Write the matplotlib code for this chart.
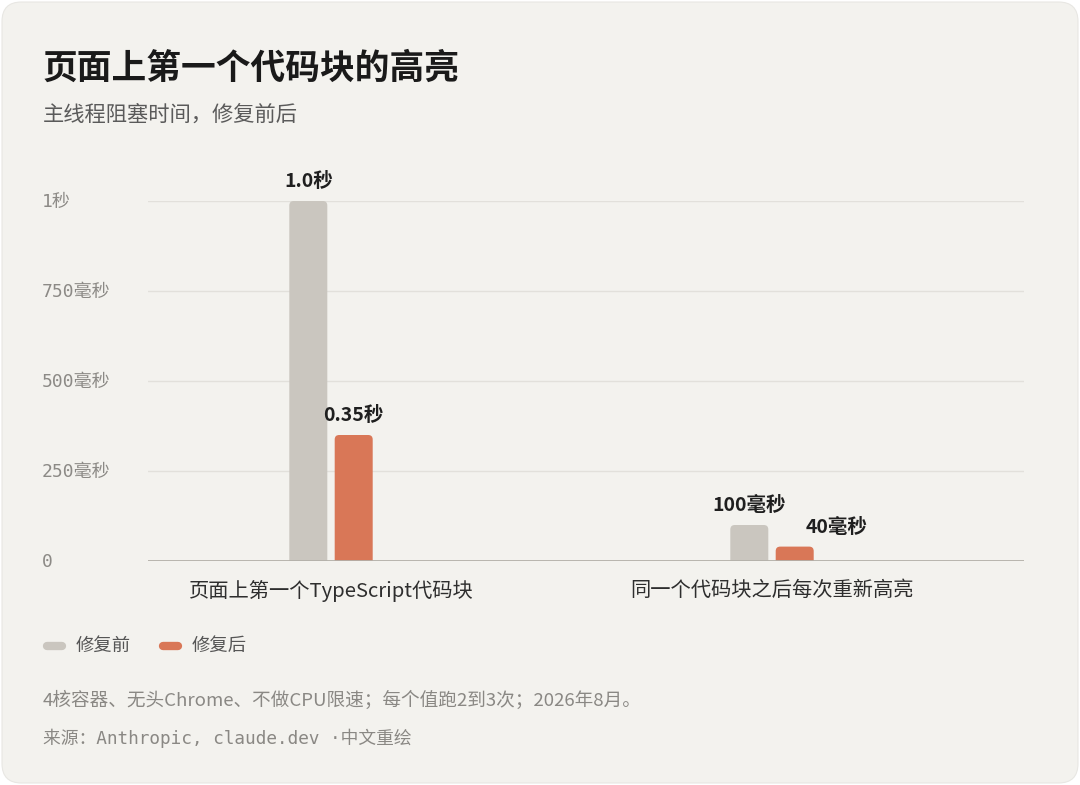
import matplotlib
matplotlib.use("Agg")
import matplotlib.pyplot as plt
from matplotlib.patches import FancyBboxPatch
from matplotlib.lines import Line2D

plt.rcParams['font.family'] = ['Noto Sans CJK SC', 'DejaVu Sans']

# ---- data ----
categories = ["页面上第一个TypeScript代码块", "同一个代码块之后每次重新高亮"]
series_names = ["修复前", "修复后"]
before_ms = [1000, 100]
after_ms = [350, 40]
before_labels = ["1.0秒", "100毫秒"]
after_labels = ["0.35秒", "40毫秒"]
ytick_values = [0, 250, 500, 750, 1000]
ytick_labels = ["0", "250毫秒", "500毫秒", "750毫秒", "1秒"]

title = "页面上第一个代码块的高亮"
subtitle = "主线程阻塞时间，修复前后"
footnote = "4核容器、无头Chrome、不做CPU限速；每个值跑2到3次；2026年8月。"
source = "来源：Anthropic, claude.dev ·中文重绘"

# ---- style ----
BG = "#F3F2EE"
GRAY = "#CAC6BF"
ORANGE = "#D97757"
W, H = 1080, 785

fig = plt.figure(figsize=(W / 100, H / 100), dpi=100)
fig.patch.set_facecolor("white")
card = FancyBboxPatch((2 / W, 2 / H), (W - 4) / W, (H - 4) / H,
                      boxstyle="round,pad=0,rounding_size=0.018",
                      transform=fig.transFigure, facecolor=BG, edgecolor="#E8E7E3",
                      linewidth=0.8, mutation_aspect=W / H, zorder=-10)
fig.patches.append(card)

def px(x, y):
    return x / W, 1 - y / H

# axes placement
left, right, top, bottom = 148, 1024, 201, 561
ax = fig.add_axes([left / W, 1 - bottom / H, (right - left) / W, (bottom - top) / H])
ax.set_zorder(5)
ax.set_facecolor("none")
c0, c1 = 331, 772
unit = c1 - c0
ax.set_xlim(-(c0 - left) / unit, 1 + (right - c1) / unit)
ax.set_ylim(0, 1000)

bw = 38 / unit
off = 22.7 / unit
ypx = (bottom - top) / 1000.0
rad_x = 4.5 / unit
aspect = (4.5 / ypx) / rad_x

# label layout tweaks (pixels): horizontal nudge to avoid overlap
label_dx = {("after", 1): 42}

xs = list(range(len(categories)))
for key, vals, labels, col, sign in [("before", before_ms, before_labels, GRAY, -1),
                                     ("after", after_ms, after_labels, ORANGE, 1)]:
    bars = ax.bar([x + sign * off for x in xs], vals, width=bw, color=col, alpha=0)
    for i, (b, v, lab) in enumerate(zip(bars, vals, labels)):
        x0 = b.get_x()
        p = FancyBboxPatch((x0, -20), bw, v + 20,
                           boxstyle=f"round,pad=0,rounding_size={rad_x}",
                           mutation_aspect=aspect, facecolor=col, edgecolor="none",
                           zorder=3, clip_on=True)
        ax.add_patch(p)
        dx = label_dx.get((key, i), 0) / unit
        ax.text(x0 + bw / 2 + dx, v + 28, lab, ha="center", va="bottom",
                fontsize=14, fontweight="bold", color="#1F1F1F", clip_on=False)

ax.set_yticks(ytick_values)
for v in ytick_values[1:]:
    ax.axhline(v, color="#E2E0DB", linewidth=1.0, zorder=1)
ax.axhline(0, color="#B3B0A9", linewidth=1.3, zorder=4)
for sp in ax.spines.values():
    sp.set_visible(False)
ax.tick_params(length=0, labelleft=False, labelbottom=False)

# y tick labels (left aligned in figure)
for v, lab in zip(ytick_values, ytick_labels):
    yy = bottom - v * ypx
    fig.text(*px(42, yy + 1), lab, ha="left", va="center", fontsize=13,
             family=['DejaVu Sans Mono', 'Noto Sans CJK SC'], color="#8C8A86")

# category labels
for x, lab in zip(xs, categories):
    ax.text(x, -82, lab, ha="center", va="center", fontsize=14.6, color="#2E2E2E", clip_on=False)

# title & subtitle
fig.text(*px(43, 68), title, ha="left", va="center", fontsize=25, fontweight="bold", color="#1A1A1A")
fig.text(*px(43, 115), subtitle, ha="left", va="center", fontsize=15.3, color="#5A5A5A")

# legend
for (x0, name, col) in [(44, series_names[0], GRAY), (160, series_names[1], ORANGE)]:
    fig.add_artist(Line2D([(x0 + 3) / W, (x0 + 18) / W], [1 - 646 / H] * 2, transform=fig.transFigure,
                          color=col, linewidth=6, solid_capstyle="round"))
    fig.text(*px(x0 + 32, 646), name, ha="left", va="center", fontsize=13.2, color="#555555")

# footnotes
fig.text(*px(43, 700), footnote, ha="left", va="center", fontsize=13.4, color="#8A8884")
fig.text(*px(43, 738), source, ha="left", va="center", fontsize=12.8,
         family=['DejaVu Sans Mono', 'Noto Sans CJK SC'], color="#8A8884")

fig.savefig("out.png", dpi=100, facecolor="white")
